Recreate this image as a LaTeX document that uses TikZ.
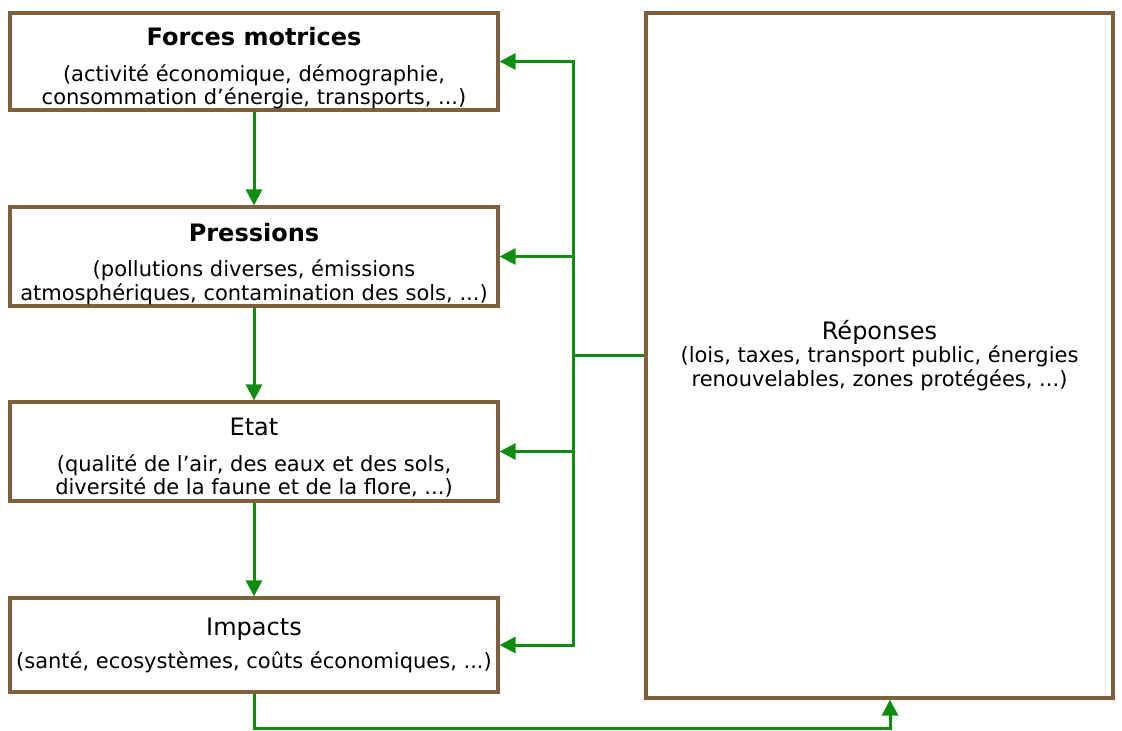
\documentclass[tikz,border=0pt]{standalone}
\usepackage{fontspec}
\setmainfont{DejaVu Sans}
\usetikzlibrary{arrows.meta}
\definecolor{boxbrown}{RGB}{128,96,60}
\definecolor{arrgreen}{RGB}{16,140,16}
\newcommand{\subfnt}{\fontsize{21}{23.5}\selectfont}
% #1 font switch, #2 strut height, #3 gap, #4 title
\newcommand{\ttlx}[4]{{\fontsize{24}{26}\selectfont#1\rule{0pt}{#2}#4}\\[#3]}
\tikzset{
  box/.style={draw=boxbrown, line width=3.2pt, fill=white, rectangle, minimum width=488pt, inner sep=0pt, align=center, text=black, font=\subfnt},
  conn/.style={draw=arrgreen, line width=3pt},
  arr/.style={conn, -{Triangle[length=16pt,width=16pt]}},
}
\begin{document}
\begin{tikzpicture}[x=1pt,y=-1pt]
\useasboundingbox (0,0) rectangle (1122,731);
\fill[white] (0,0) rectangle (1122,731);
\node[box, minimum height=97pt] (F) at (254,61.5)
  {\ttlx{\bfseries}{32pt}{12pt}{Forces motrices}(activité économique, démographie,\\ consommation d’énergie, transports, ...)};
\node[box, minimum height=99pt] (P) at (254,256.5)
  {\ttlx{\bfseries}{33pt}{12pt}{Pressions}(pollutions diverses, émissions\\ atmosphériques, contamination des sols, ...)};
\node[box, minimum height=99pt] (E) at (254,451.5)
  {\ttlx{}{30pt}{12pt}{Etat}(qualité de l’air, des eaux et des sols,\\ diversité de la faune et de la flore, ...)};
\node[box, minimum height=94pt] (I) at (254,645)
  {\ttlx{}{18pt}{10pt}{Impacts}(santé, ecosystèmes, coûts économiques, ...)};
\node[box, minimum width=467pt, minimum height=685pt] (R) at (879.5,355.5)
  {\ttlx{}{18pt}{0pt}{Réponses}(lois, taxes, transport public, énergies\\ renouvelables, zones protégées, ...)};
\coordinate (j) at (573,355);
\draw[conn] (R.west |- j) -- (j);
\draw[arr] (j) |- (F.east);
\draw[arr] (j) |- (P.east);
\draw[arr] (j) |- (E.east);
\draw[arr] (j) |- (I.east);
\draw[arr] (F.south) -- (P.north);
\draw[arr] (P.south) -- (E.north);
\draw[arr] (E.south) -- (I.north);
\draw[arr] (I.south) -- ++(0,35) -| ([xshift=10.5pt]R.south);
\end{tikzpicture}
\end{document}
